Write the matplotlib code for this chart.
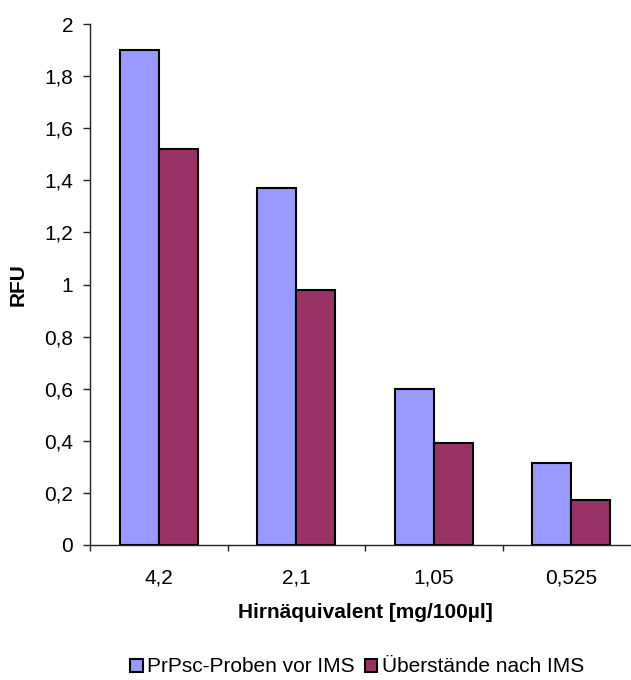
import matplotlib
matplotlib.use("Agg")
import matplotlib.pyplot as plt
import numpy as np

plt.rcParams['font.family'] = ['Liberation Sans', 'DejaVu Sans']

categories = ['4,2', '2,1', '1,05', '0,525']
proben_vor_ims = [1.90, 1.37, 0.60, 0.315]
ueberstaende_nach_ims = [1.52, 0.98, 0.39, 0.173]
series_names = ['PrPsc-Proben vor IMS', 'Überstände nach IMS']
y_ticks = [0, 0.2, 0.4, 0.6, 0.8, 1.0, 1.2, 1.4, 1.6, 1.8, 2.0]
y_tick_labels = ['0', '0,2', '0,4', '0,6', '0,8', '1', '1,2', '1,4', '1,6', '1,8', '2']

W, H = 631, 680
FS = 15
fig = plt.figure(figsize=(W / 100, H / 100), dpi=100)
ax = fig.add_axes([90 / W, (H - 545) / H, 550 / W, (545 - 24) / H])

x = np.arange(len(categories))
bw = 0.284
b1 = ax.bar(x - bw / 2, proben_vor_ims, bw, color='#9999FF', edgecolor='black', linewidth=1.5,
            label=series_names[0])
b2 = ax.bar(x + bw / 2, ueberstaende_nach_ims, bw, color='#993366', edgecolor='black', linewidth=1.5,
            label=series_names[1])

ax.set_xlim(-0.5, len(categories) - 0.5)
ax.set_ylim(0, 2)
ax.set_yticks(y_ticks)
ax.set_yticklabels(y_tick_labels, fontsize=FS)

# boundary ticks between categories, labels centred on each group
ax.set_xticks(np.arange(len(categories) + 1) - 0.5)
ax.set_xticklabels([])
ax.set_xticks(x, minor=True)
ax.set_xticklabels(categories, minor=True, fontsize=FS)
ax.tick_params(axis='x', which='minor', length=0, pad=17)
ax.tick_params(axis='x', which='major', length=4.5, width=1, color='#222222')
ax.tick_params(axis='y', length=5, width=1, color='#222222', pad=7)

for s in ['top', 'right']:
    ax.spines[s].set_visible(False)
for s in ['left', 'bottom']:
    ax.spines[s].set_color('#222222')
    ax.spines[s].set_linewidth(1.0)

ax.set_ylabel('RFU', fontsize=FS, fontweight='bold')
ax.yaxis.set_label_coords(-62 / 550, 0.5)
fig.text(365 / W, 1 - 613 / H, 'Hirnäquivalent [mg/100µl]', fontsize=FS,
         fontweight='bold', ha='center', va='center')

fig.legend(handles=[b1, b2], labels=series_names, loc='center', ncol=2,
           bbox_to_anchor=(357 / W, 1 - 667 / H), frameon=False, fontsize=FS,
           handlelength=0.6, handleheight=0.6, handletextpad=0.2, columnspacing=0.5,
           borderaxespad=0)

fig.savefig('out.png', dpi=100)
